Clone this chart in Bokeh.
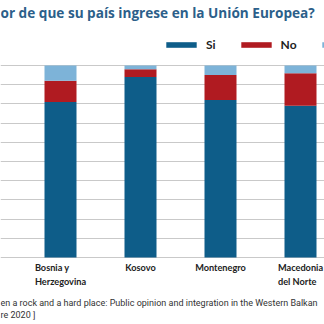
from bokeh.plotting import figure
from bokeh.models import (ColumnDataSource, Range1d, FixedTicker, Legend, LegendItem,
                          Label, LabelSet, Grid)
from bokeh.core.properties import value
from bokeh.embed import file_html
from bokeh.resources import INLINE

# ---- data ----
countries = ["Bosnia y\nHerzegovina", "Kosovo", "Montenegro", "Macedonia\ndel Norte"]
series = ["Si", "No", " "]
si = [81, 94, 82, 79]
no = [11, 4, 13, 17]
ns = [8, 2, 5, 4]
y_ticks = [0, 10, 20, 30, 40, 50, 60, 70, 80, 90, 100]
title_text = "or de que su país ingrese en la Unión Europea?"
source_line1 = "en a rock and a hard place: Public opinion and integration in the Western Balkan"
source_line2 = "re 2020 ]"

colors = ["#0e5d89", "#b01b21", "#7db3d8"]

W = H = 324
plot_top, plot_bottom = 65, 257          # pixel rows of 100 % and 0 %
ppu = (plot_bottom - plot_top) / 100.0
y_lo = -(H - plot_bottom) / ppu
y_hi = 100 + plot_top / ppu

idx = list(range(len(countries)))
src = ColumnDataSource(dict(x=idx, Si=si, No=no, NsNc=ns, label=countries))

p = figure(width=W, height=H, output_backend="svg", toolbar_location=None,
           x_range=Range1d(-0.75, 3.3), y_range=Range1d(y_lo, y_hi),
           x_axis_location=None, y_axis_location=None, min_border=0)
p.outline_line_color = None
p.background_fill_color = "white"
p.border_fill_color = "white"
p.grid.visible = False

p.add_layout(Grid(dimension=1, ticker=FixedTicker(ticks=y_ticks),
                  grid_line_color="#c9c9c9", grid_line_width=1), "center")

rs = p.vbar_stack(["Si", "No", "NsNc"], x="x", width=0.4, source=src,
                  color=colors, line_color=None)

# category labels (below the bars)
p.add_layout(LabelSet(x="x", y=H - 261, y_units="screen", text="label", source=src,
                      text_align="center", text_baseline="top",
                      text_font=value("Lato"), text_font_style="bold",
                      text_font_size="9.2px", text_color="#222222",
                      text_line_height=1.35))

legend = Legend(items=[LegendItem(label=s, renderers=[r]) for s, r in zip(series, rs)],
                orientation="horizontal", location=(162, H - 52),
                glyph_width=38, glyph_height=7, label_height=7, label_width=0,
                label_standoff=6, spacing=21, padding=0, margin=0,
                border_line_color=None, background_fill_alpha=0,
                label_text_font="Lato", label_text_font_style="bold",
                label_text_font_size="12px", label_text_color="#222222")
p.add_layout(legend, "center")

p.add_layout(Label(x=0, y=H - 12, x_units="screen", y_units="screen", text=title_text,
                   text_font="Open Sans", text_font_style="bold", text_font_size="13.6px",
                   text_color="#2c5f8a", text_baseline="middle"))
p.add_layout(Label(x=0, y=H - 302, x_units="screen", y_units="screen", text=source_line1,
                   text_font="Roboto", text_font_size="9px",
                   text_color="#333333", text_baseline="middle"))
p.add_layout(Label(x=0, y=H - 314, x_units="screen", y_units="screen", text=source_line2,
                   text_font="Roboto", text_font_size="9px",
                   text_color="#333333", text_baseline="middle"))

open("out.html", "w").write(file_html(p, INLINE))
